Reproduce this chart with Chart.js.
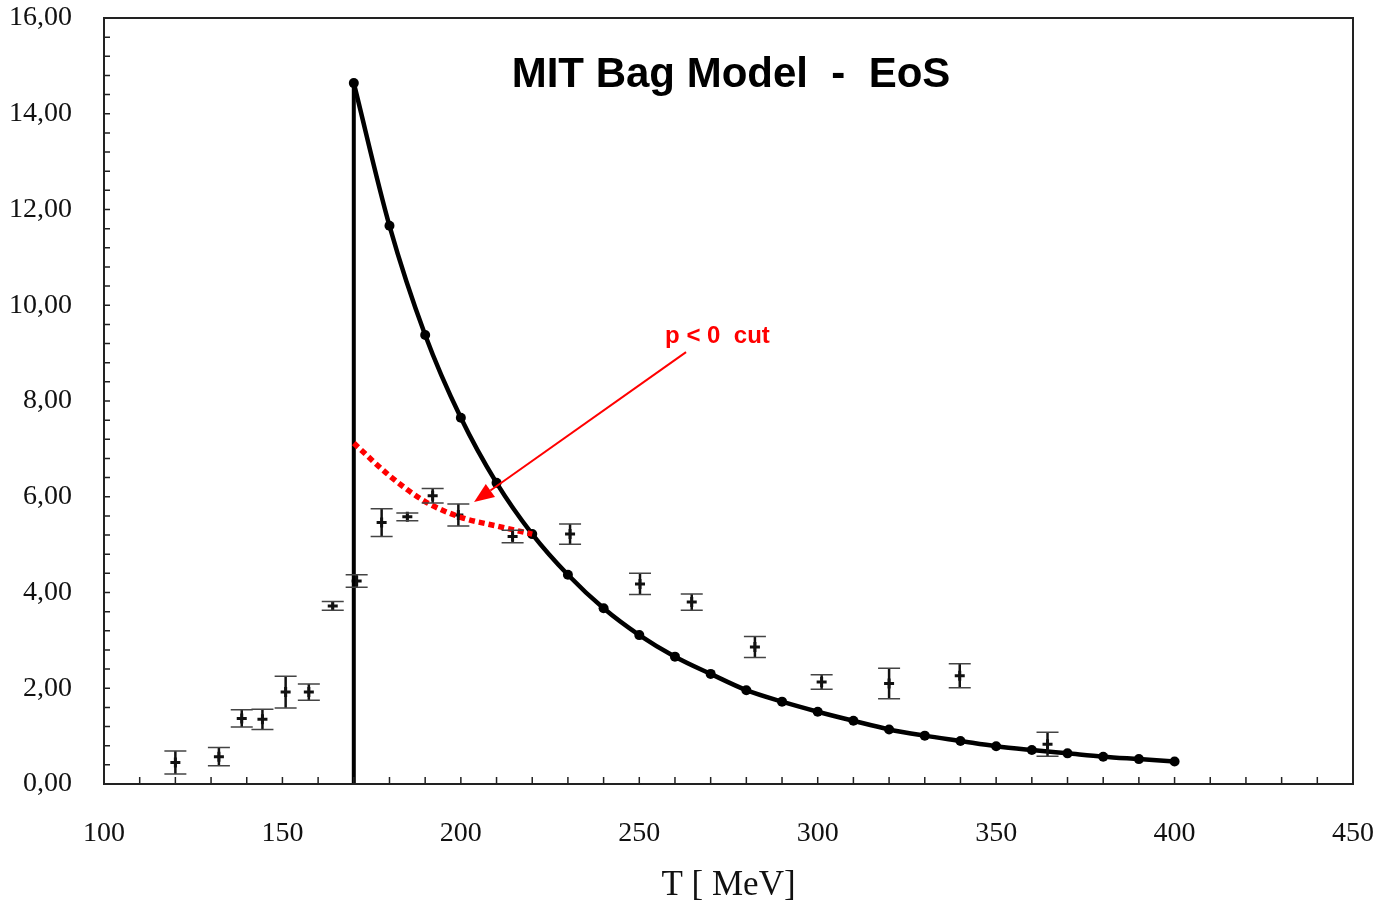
<!DOCTYPE html>
<html>
<head>
<meta charset="utf-8">
<script src="https://cdn.jsdelivr.net/npm/chart.js@4/dist/chart.umd.min.js"></script>
<style>html,body{margin:0;padding:0;background:#fff}</style>
</head>
<body>
<canvas id="myChart" width="1380" height="905"></canvas>
<script>
// lattice points: T, value, error
var dataT = [120, 132.2, 138.6, 144.4, 150.9, 157.4, 164.1, 170.8, 177.8, 185, 192.1, 199.3, 214.5, 230.6, 250.2, 264.7, 282.4, 301.1, 320, 339.8, 364.4];
var dataE = [0.45, 0.57, 1.37, 1.35, 1.92, 1.92, 3.72, 4.24, 5.46, 5.58, 6.02, 5.62, 5.17, 5.22, 4.18, 3.80, 2.86, 2.13, 2.10, 2.26, 0.83];
var dataErr = [0.24, 0.19, 0.18, 0.21, 0.33, 0.17, 0.09, 0.13, 0.29, 0.08, 0.15, 0.23, 0.13, 0.21, 0.22, 0.17, 0.22, 0.15, 0.32, 0.25, 0.25];

// MIT bag model curve
var bagT = [170, 180, 190, 200, 210, 220, 230, 240, 250, 260, 270, 280, 290, 300, 310, 320, 330, 340, 350, 360, 370, 380, 390, 400];
var bagE = [14.64, 11.66, 9.38, 7.65, 6.29, 5.22, 4.37, 3.67, 3.11, 2.66, 2.30, 1.96, 1.72, 1.51, 1.32, 1.14, 1.01, 0.90, 0.79, 0.71, 0.64, 0.57, 0.52, 0.47];

// vertical wall at Tc
var wallT = [170, 170];
var wallE = [0, 14.64];

// p < 0 cut (red dotted)
var cutT = [170, 180, 190, 200, 210, 220];
var cutE = [7.12, 6.44, 5.90, 5.57, 5.39, 5.22];

// text / arrow anchors in data units
var titleText = 'MIT Bag Model  -  EoS';
var titlePos = [275.7, 14.56];
var cutLabel = 'p < 0  cut';
var cutLabelPos = [271.9, 9.21];
var arrowFrom = [263.1, 9.02];
var arrowTo = [203.7, 5.89];

function pts(xs, ys) {
    return xs.map(function (x, i) { return {x: x, y: ys[i]}; });
}

var extras = {
    id: 'extras',
    afterDraw: function (chart) {
        var ctx = chart.ctx, xs = chart.scales.x, ys = chart.scales.y;
        var a = chart.chartArea;
        ctx.save();
        // error bars
        dataT.forEach(function (t, i) {
            var px = xs.getPixelForValue(t);
            var top = ys.getPixelForValue(dataE[i] + dataErr[i]);
            var bot = ys.getPixelForValue(dataE[i] - dataErr[i]);
            ctx.strokeStyle = '#111';
            ctx.lineWidth = 2.5;
            ctx.beginPath(); ctx.moveTo(px, top); ctx.lineTo(px, bot); ctx.stroke();
            ctx.strokeStyle = '#444';
            ctx.lineWidth = 1.5;
            ctx.beginPath();
            ctx.moveTo(px - 11, top); ctx.lineTo(px + 11, top);
            ctx.moveTo(px - 11, bot); ctx.lineTo(px + 11, bot);
            ctx.stroke();
        });
        // frame
        ctx.strokeStyle = '#222';
        ctx.lineWidth = 2;
        ctx.strokeRect(a.left, a.top, a.right - a.left, a.bottom - a.top);
        // inward ticks
        ctx.lineWidth = 1.5;
        ctx.beginPath();
        for (var t = 110; t < 450; t += 10) {
            var px = xs.getPixelForValue(t);
            ctx.moveTo(px, a.bottom); ctx.lineTo(px, a.bottom - 7);
        }
        for (var k = 1; k < 40; k++) {
            var py = ys.getPixelForValue(k * 0.4);
            ctx.moveTo(a.left, py); ctx.lineTo(a.left + 6, py);
        }
        ctx.stroke();
        // title
        ctx.fillStyle = '#000';
        ctx.font = 'bold 42px "Liberation Sans", Arial, sans-serif';
        ctx.textAlign = 'center';
        ctx.textBaseline = 'alphabetic';
        ctx.fillText(titleText, xs.getPixelForValue(titlePos[0]), ys.getPixelForValue(titlePos[1]));
        // cut label
        ctx.fillStyle = '#ff0000';
        ctx.font = 'bold 24px "Liberation Sans", Arial, sans-serif';
        ctx.fillText(cutLabel, xs.getPixelForValue(cutLabelPos[0]), ys.getPixelForValue(cutLabelPos[1]));
        // arrow
        var x0 = xs.getPixelForValue(arrowFrom[0]), y0 = ys.getPixelForValue(arrowFrom[1]);
        var x1 = xs.getPixelForValue(arrowTo[0]), y1 = ys.getPixelForValue(arrowTo[1]);
        var ang = Math.atan2(y1 - y0, x1 - x0);
        var hl = 20, hw = 8;
        var bx = x1 - hl * Math.cos(ang), by = y1 - hl * Math.sin(ang);
        ctx.strokeStyle = '#ff0000';
        ctx.lineWidth = 2;
        ctx.beginPath(); ctx.moveTo(x0, y0); ctx.lineTo(bx, by); ctx.stroke();
        ctx.beginPath();
        ctx.moveTo(x1, y1);
        ctx.lineTo(bx + hw * Math.sin(ang), by - hw * Math.cos(ang));
        ctx.lineTo(bx - hw * Math.sin(ang), by + hw * Math.cos(ang));
        ctx.closePath();
        ctx.fill();
        ctx.restore();
    }
};

var ctx = document.getElementById('myChart').getContext('2d');
var myChart = new Chart(ctx, {
    type: 'scatter',
    data: {
        datasets: [
            {
                label: 'cut',
                data: pts(cutT, cutE),
                showLine: true,
                borderColor: '#ff0000',
                borderWidth: 5.5,
                borderDash: [6, 4],
                cubicInterpolationMode: 'monotone',
                pointRadius: 0
            },
            {
                label: 'wall',
                data: pts(wallT, wallE),
                showLine: true,
                borderColor: '#000',
                borderWidth: 4,
                pointRadius: 0
            },
            {
                label: 'bag',
                data: pts(bagT, bagE),
                showLine: true,
                borderColor: '#000',
                backgroundColor: '#000',
                borderWidth: 4.5,
                cubicInterpolationMode: 'monotone',
                pointRadius: 5,
                pointBorderWidth: 0
            },
            {
                label: 'lattice',
                data: pts(dataT, dataE),
                showLine: false,
                pointStyle: 'cross',
                borderColor: '#111',
                pointRadius: 5,
                pointBorderWidth: 3
            }
        ]
    },
    options: {
        responsive: false,
        animation: false,
        layout: { padding: { top: 18, right: 27, left: 0, bottom: 0 } },
        plugins: { legend: { display: false }, tooltip: { enabled: false } },
        scales: {
            x: {
                type: 'linear',
                min: 100, max: 450,
                grid: { display: false },
                border: { display: false },
                ticks: {
                    stepSize: 50,
                    padding: 25,
                    color: '#111',
                    font: { family: '"Liberation Serif", "Times New Roman", serif', size: 28 }
                },
                title: {
                    display: true,
                    text: 'T [ MeV]',
                    color: '#111',
                    padding: { top: 0, bottom: -2 },
                    font: { family: '"Liberation Serif", "Times New Roman", serif', size: 35 }
                },
                afterFit: function (s) { s.height = 121; s.paddingLeft = 0; s.paddingRight = 0; }
            },
            y: {
                min: 0, max: 16,
                grid: { display: false },
                border: { display: false },
                ticks: {
                    stepSize: 2,
                    padding: 24,
                    color: '#111',
                    font: { family: '"Liberation Serif", "Times New Roman", serif', size: 28 },
                    callback: function (v) { return v.toFixed(2).replace('.', ','); }
                },
                afterFit: function (s) { s.width = 104; s.paddingTop = 0; s.paddingBottom = 0; }
            }
        }
    },
    plugins: [extras]
});
</script>
</body>
</html>
